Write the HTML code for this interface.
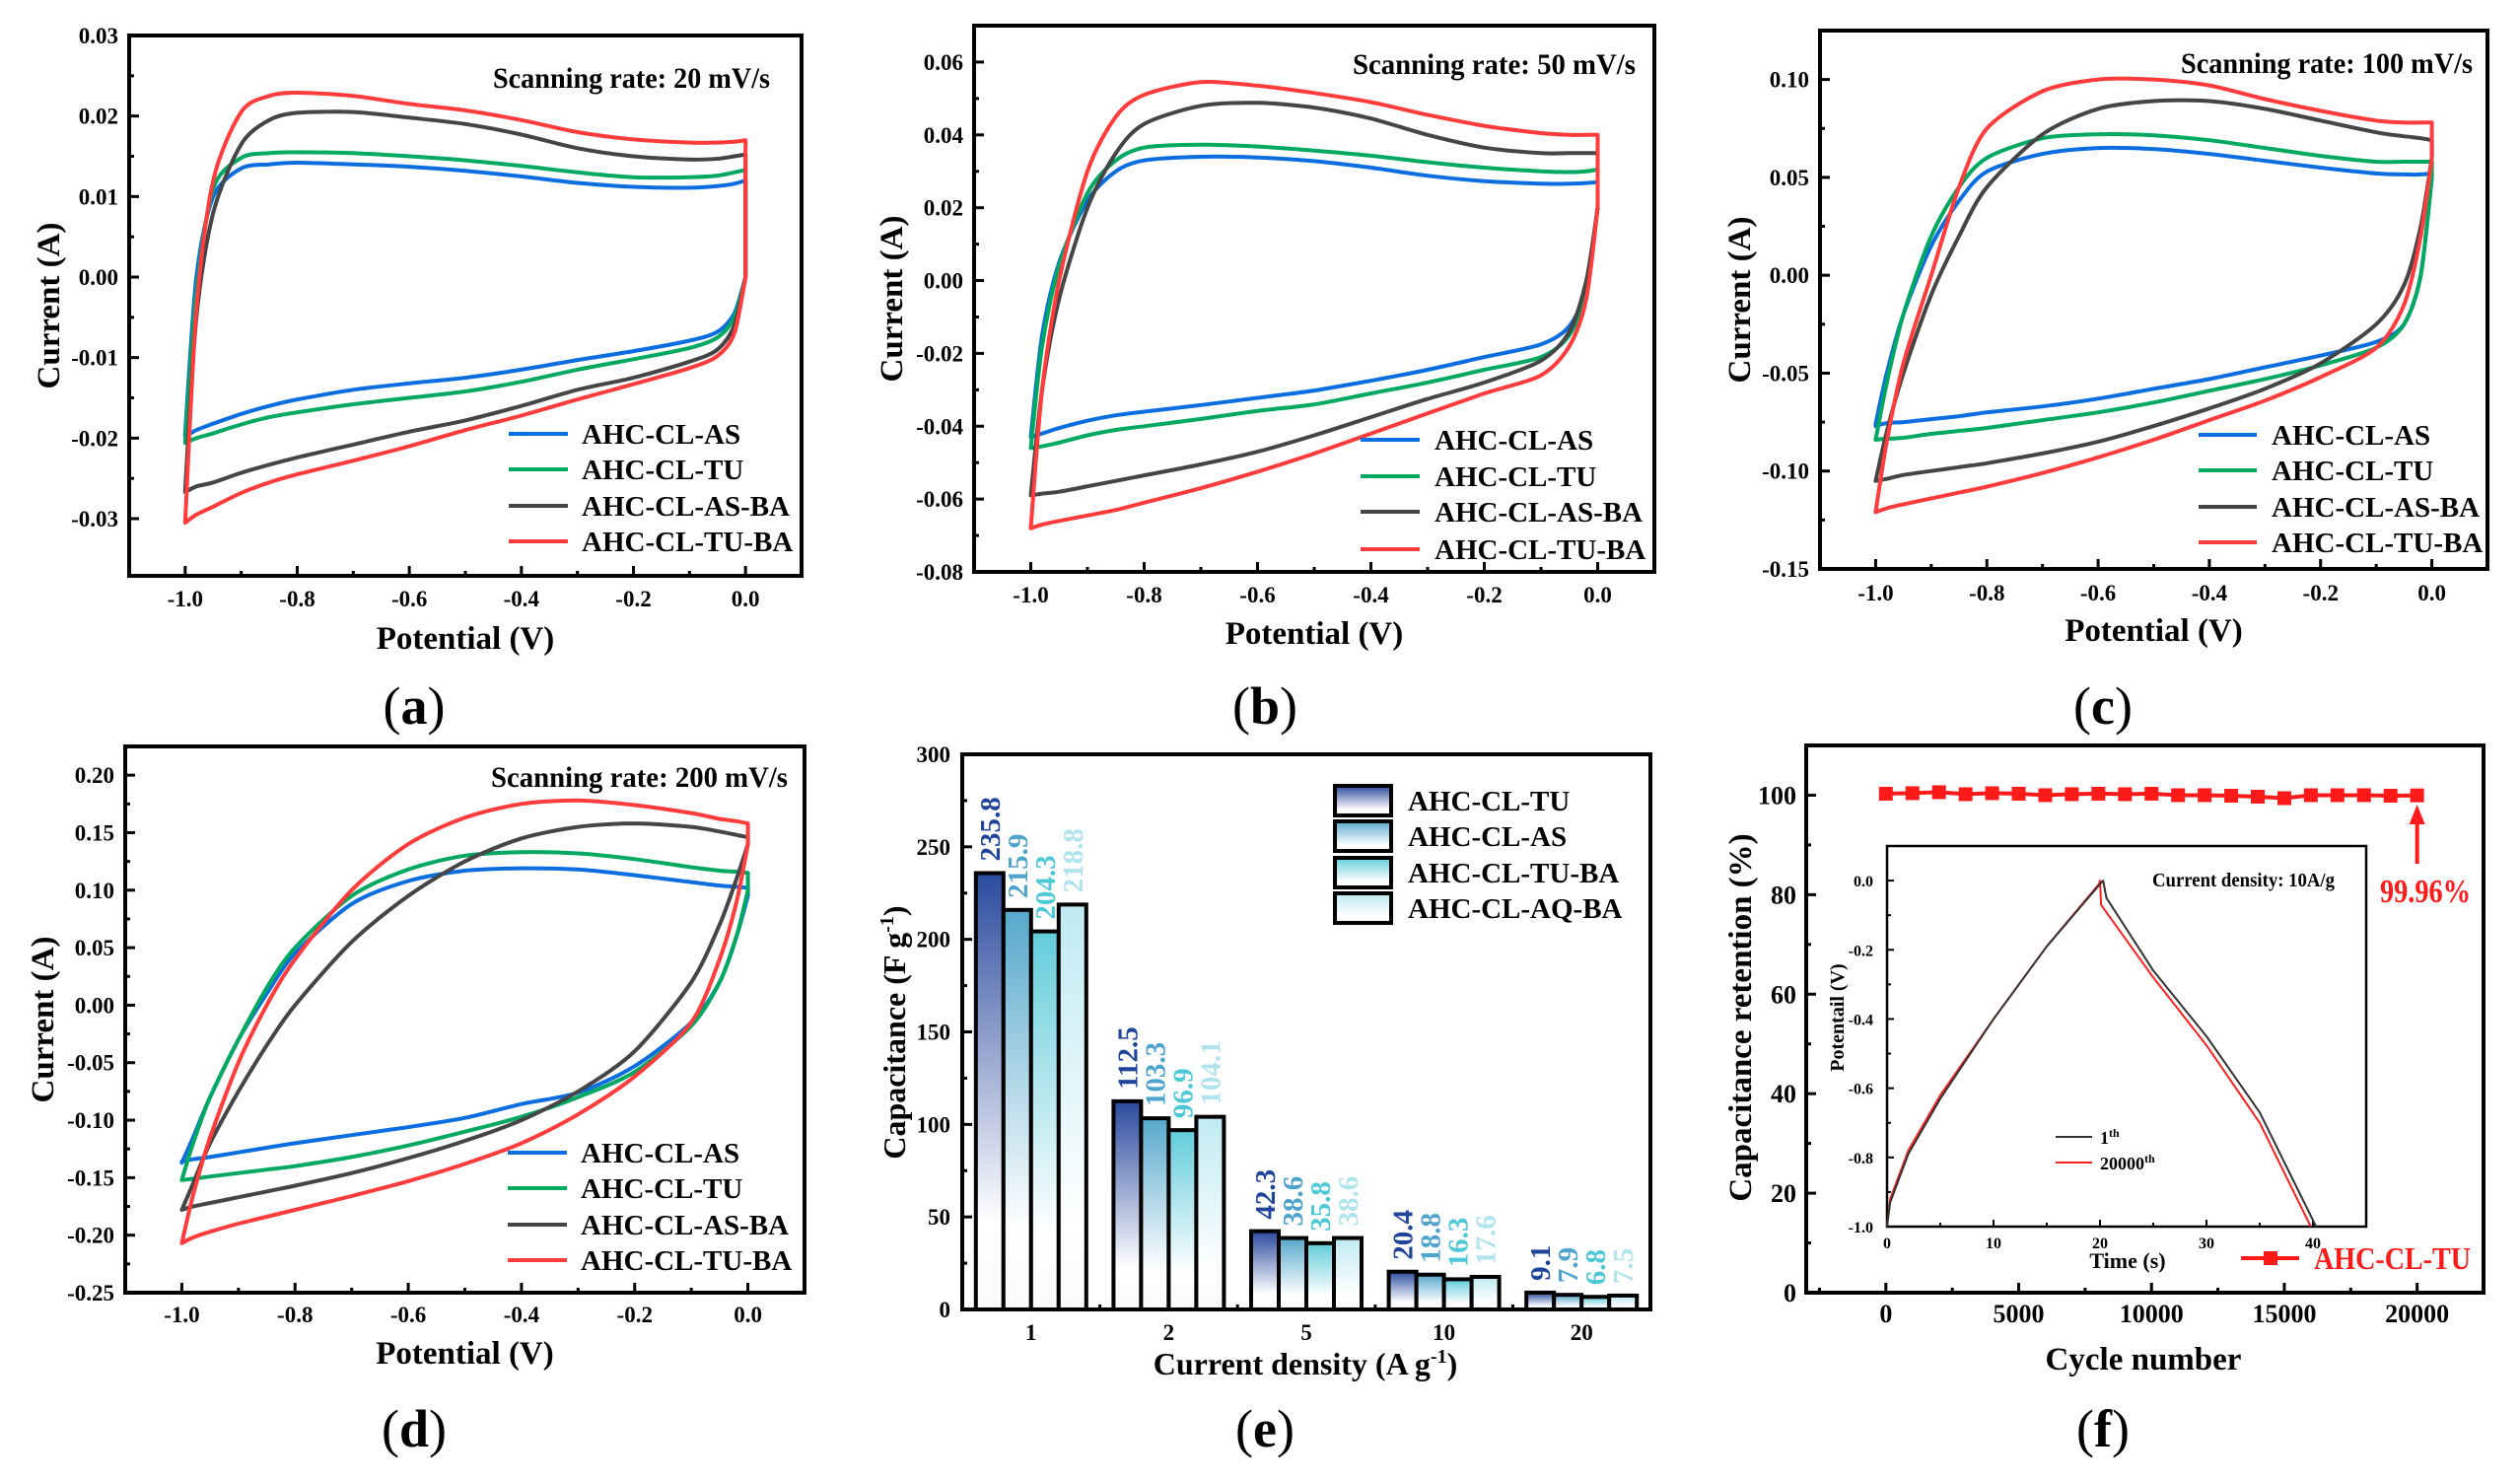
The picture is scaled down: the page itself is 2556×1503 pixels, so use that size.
<!DOCTYPE html>
<html><head><meta charset="utf-8"><style>
html,body{margin:0;padding:0;background:#fff;}
svg{display:block;font-family:"Liberation Serif",serif;}
</style></head><body>
<svg id="fig" width="2556" height="1503" viewBox="0 0 2556 1503" xmlns="http://www.w3.org/2000/svg">
<defs>
<linearGradient id="g0" x1="0" y1="0" x2="0" y2="1"><stop offset="0" stop-color="#2a4a9e"/><stop offset="0.8" stop-color="#ffffff"/><stop offset="1" stop-color="#fafafa"/></linearGradient>
<linearGradient id="g1" x1="0" y1="0" x2="0" y2="1"><stop offset="0" stop-color="#56a8cc"/><stop offset="0.8" stop-color="#ffffff"/><stop offset="1" stop-color="#fafafa"/></linearGradient>
<linearGradient id="g2" x1="0" y1="0" x2="0" y2="1"><stop offset="0" stop-color="#62ccdb"/><stop offset="0.8" stop-color="#ffffff"/><stop offset="1" stop-color="#fafafa"/></linearGradient>
<linearGradient id="g3" x1="0" y1="0" x2="0" y2="1"><stop offset="0" stop-color="#bfeaf2"/><stop offset="0.8" stop-color="#ffffff"/><stop offset="1" stop-color="#fafafa"/></linearGradient>
</defs>
</svg>
<script>
// ---------- CV data ----------
const potentialsUp   = [-1.0,-0.98,-0.95,-0.9,-0.85,-0.8,-0.7,-0.6,-0.5,-0.4,-0.3,-0.2,-0.1,-0.05,-0.02,0.0];
const potentialsDown = [0.0,-0.02,-0.05,-0.1,-0.2,-0.3,-0.4,-0.5,-0.6,-0.7,-0.8,-0.85,-0.9,-0.95,-0.98,-1.0];
const seriesNames = ['AHC-CL-AS','AHC-CL-TU','AHC-CL-AS-BA','AHC-CL-TU-BA'];
// (a) 20 mV/s
const a_AS_up   = [-0.0195,0.0,0.010,0.0135,0.014,0.0142,0.014,0.0137,0.0132,0.0125,0.0117,0.0112,0.0111,0.0113,0.0116,0.012];
const a_AS_dn   = [0.0,-0.0045,-0.0068,-0.0079,-0.0092,-0.0103,-0.0115,-0.0125,-0.0132,-0.014,-0.0152,-0.016,-0.017,-0.0182,-0.019,-0.0198];
const a_TU_up   = [-0.0205,-0.002,0.011,0.0148,0.0154,0.0155,0.0154,0.015,0.0145,0.0138,0.013,0.0124,0.0124,0.0126,0.013,0.0133];
const a_TU_dn   = [0.0,-0.005,-0.0075,-0.0088,-0.0102,-0.0115,-0.013,-0.0142,-0.015,-0.0158,-0.0168,-0.0174,-0.0183,-0.0194,-0.02,-0.0206];
const a_ASBA_up = [-0.0265,-0.005,0.008,0.0165,0.0195,0.0204,0.0205,0.0198,0.019,0.0177,0.016,0.015,0.0146,0.0147,0.015,0.0152];
const a_ASBA_dn = [0.0,-0.006,-0.009,-0.0105,-0.0125,-0.014,-0.016,-0.0178,-0.0192,-0.0208,-0.0224,-0.0233,-0.0243,-0.0255,-0.026,-0.0267];
const a_TUBA_up = [-0.0305,-0.004,0.012,0.0205,0.0225,0.0229,0.0225,0.0215,0.0207,0.0195,0.018,0.0171,0.0167,0.0167,0.0168,0.017];
const a_TUBA_dn = [0.0,-0.007,-0.0098,-0.0113,-0.0133,-0.0152,-0.0172,-0.019,-0.021,-0.0228,-0.0245,-0.0255,-0.0268,-0.0285,-0.0295,-0.0305];
// (b) 50 mV/s
const b_AS_up   = [-0.043,-0.015,0.005,0.022,0.03,0.033,0.034,0.0338,0.0328,0.031,0.0288,0.0273,0.0266,0.0266,0.0268,0.027];
const b_AS_dn   = [0.02,-0.002,-0.0125,-0.0175,-0.021,-0.0245,-0.0275,-0.0302,-0.0322,-0.0342,-0.036,-0.037,-0.0385,-0.0405,-0.042,-0.043];
const b_TU_up   = [-0.046,-0.018,0.004,0.024,0.033,0.0365,0.0373,0.0368,0.0357,0.0343,0.0325,0.031,0.030,0.0298,0.030,0.0305];
const b_TU_dn   = [0.02,-0.003,-0.015,-0.021,-0.0245,-0.028,-0.031,-0.034,-0.0358,-0.038,-0.040,-0.041,-0.0425,-0.0445,-0.0455,-0.046];
const b_ASBA_up = [-0.059,-0.03,-0.005,0.02,0.035,0.043,0.048,0.0488,0.0475,0.0445,0.040,0.0365,0.035,0.035,0.035,0.035];
const b_ASBA_dn = [0.02,0.0,-0.014,-0.022,-0.028,-0.0325,-0.0375,-0.0425,-0.047,-0.0505,-0.0535,-0.055,-0.0565,-0.058,-0.0585,-0.059];
const b_TUBA_up = [-0.068,-0.03,0.0,0.03,0.045,0.051,0.0545,0.0535,0.0515,0.049,0.0455,0.0425,0.0405,0.040,0.040,0.040];
const b_TUBA_dn = [0.02,-0.005,-0.018,-0.026,-0.031,-0.0365,-0.042,-0.0475,-0.0525,-0.057,-0.061,-0.063,-0.0645,-0.066,-0.067,-0.068];
// (c) 100 mV/s
const c_AS_up   = [-0.076,-0.05,-0.02,0.015,0.038,0.053,0.062,0.065,0.0645,0.062,0.0585,0.055,0.052,0.0515,0.0515,0.052];
const c_AS_dn   = [0.05,0.0,-0.025,-0.034,-0.041,-0.047,-0.053,-0.058,-0.063,-0.067,-0.070,-0.072,-0.0735,-0.075,-0.0755,-0.077];
const c_TU_up   = [-0.084,-0.055,-0.02,0.02,0.045,0.06,0.07,0.072,0.0715,0.069,0.065,0.061,0.058,0.058,0.058,0.058];
const c_TU_dn   = [0.05,0.0,-0.025,-0.037,-0.046,-0.053,-0.059,-0.065,-0.070,-0.074,-0.078,-0.0795,-0.081,-0.083,-0.0835,-0.084];
const c_ASBA_up = [-0.105,-0.08,-0.05,-0.01,0.02,0.045,0.072,0.085,0.089,0.089,0.085,0.079,0.073,0.071,0.070,0.069];
const c_ASBA_dn = [0.06,0.025,-0.005,-0.025,-0.045,-0.058,-0.068,-0.077,-0.085,-0.091,-0.096,-0.098,-0.100,-0.102,-0.104,-0.105];
const c_TUBA_up = [-0.121,-0.085,-0.045,0.0,0.045,0.075,0.094,0.100,0.100,0.097,0.090,0.084,0.079,0.078,0.078,0.078];
const c_TUBA_dn = [0.06,0.02,-0.015,-0.037,-0.052,-0.064,-0.074,-0.084,-0.093,-0.101,-0.108,-0.111,-0.114,-0.117,-0.119,-0.121];
// (d) 200 mV/s
const d_AS_up   = [-0.137,-0.115,-0.08,-0.03,0.01,0.045,0.088,0.108,0.117,0.119,0.118,0.113,0.107,0.104,0.103,0.102];
const d_AS_dn   = [0.095,0.06,0.02,-0.015,-0.053,-0.076,-0.086,-0.098,-0.106,-0.113,-0.120,-0.124,-0.128,-0.132,-0.134,-0.136];
const d_TU_up   = [-0.152,-0.12,-0.08,-0.03,0.015,0.05,0.095,0.118,0.130,0.133,0.132,0.127,0.120,0.117,0.116,0.115];
const d_TU_dn   = [0.10,0.06,0.02,-0.018,-0.058,-0.080,-0.097,-0.110,-0.122,-0.132,-0.140,-0.143,-0.146,-0.149,-0.151,-0.152];
const d_ASBA_up = [-0.178,-0.155,-0.12,-0.075,-0.035,0.0,0.055,0.095,0.125,0.145,0.155,0.158,0.155,0.151,0.148,0.146];
const d_ASBA_dn = [0.14,0.11,0.07,0.02,-0.04,-0.075,-0.10,-0.118,-0.133,-0.146,-0.157,-0.162,-0.167,-0.172,-0.175,-0.178];
const d_TUBA_up = [-0.207,-0.165,-0.115,-0.05,0.0,0.04,0.10,0.14,0.163,0.175,0.178,0.174,0.167,0.162,0.160,0.158];
const d_TUBA_dn = [0.14,0.09,0.04,-0.015,-0.062,-0.095,-0.12,-0.138,-0.153,-0.166,-0.178,-0.184,-0.190,-0.197,-0.202,-0.207];
// ---------- bar data (e) ----------
const densityLabels = ['1','2','5','10','20'];
const barSeries = ['AHC-CL-TU','AHC-CL-AS','AHC-CL-TU-BA','AHC-CL-AQ-BA'];
const capTU   = [235.8,112.5,42.3,20.4,9.1];
const capAS   = [215.9,103.3,38.6,18.8,7.9];
const capTUBA = [204.3,96.9,35.8,16.3,6.8];
const capAQBA = [218.8,104.1,38.6,17.6,7.5];
const capTickLabels = ['0','50','100','150','200','250','300'];
// ---------- retention data (f) ----------
const cycles = [0,1000,2000,3000,4000,5000,6000,7000,8000,9000,10000,11000,12000,13000,14000,15000,16000,17000,18000,19000,20000];
const retention = [100.3,100.4,100.6,100.2,100.4,100.3,100.0,100.2,100.3,100.2,100.3,100.0,100.0,99.9,99.7,99.4,100.0,100.0,100.0,99.9,99.96];
const cycleTickLabels = ['0','5000','10000','15000','20000'];
const gcdTime1 = [0,0.3,2,5,10,15,20,20.3,20.6,25,30,35,40.3];
const gcdV1    = [-1.0,-0.93,-0.79,-0.63,-0.40,-0.19,-0.01,0.0,-0.05,-0.26,-0.45,-0.67,-1.0];
const gcdTime2 = [0,0.3,2,5,10,15,19.9,20.0,20.1,25,30,35,39.8];
const gcdV2    = [-1.0,-0.92,-0.78,-0.62,-0.40,-0.19,-0.01,0.0,-0.07,-0.28,-0.476,-0.70,-1.0];

const NS='http://www.w3.org/2000/svg';
const svg=document.getElementById('fig');
function mk(tag,attrs,name,parent){
  const el=document.createElementNS(NS,tag);
  for(const k in attrs) el.setAttribute(k,attrs[k]);
  
  
  (parent||svg).appendChild(el);
  return el;
}
function txt(x,y,s,size,name,opts){
  opts=opts||{};
  const a={x:x,y:y,'font-size':size,'font-weight':opts.weight||'bold',fill:opts.fill||'#000','text-anchor':opts.anchor||'middle'};
  if(opts.transform) a.transform=opts.transform;
  if(opts.len){a.textLength=opts.len;a.lengthAdjust='spacingAndGlyphs';}
  const t=mk('text',a,name,opts.parent);
  t.textContent=s;
  return t;
}
function lin(d0,d1,r0,r1){return v=>r0+(v-d0)/(d1-d0)*(r1-r0);}
function smoothSeg(pts,t){
  let d='';
  for(let i=0;i<pts.length-1;i++){
    const p0=pts[i-1]||pts[i],p1=pts[i],p2=pts[i+1],p3=pts[i+2]||p2;
    const c1=[p1[0]+(p2[0]-p0[0])*t,p1[1]+(p2[1]-p0[1])*t];
    const c2=[p2[0]-(p3[0]-p1[0])*t,p2[1]-(p3[1]-p1[1])*t];
    d+='C'+c1[0].toFixed(1)+','+c1[1].toFixed(1)+' '+c2[0].toFixed(1)+','+c2[1].toFixed(1)+' '+p2[0].toFixed(1)+','+p2[1].toFixed(1);
  }
  return d;
}
function frame(P,name){
  mk('rect',{x:P.L,y:P.T,width:P.R-P.L,height:P.B-P.T,fill:'none',stroke:'#000','stroke-width':P.sw||4},name);
}
function panelLabel(x,y,letter,name){
  const t=mk('text',{x:x,y:y,'font-size':54,'text-anchor':'middle'},name);
  const s1=mk('tspan',{},'paren-open',t);s1.textContent='(';
  const s2=mk('tspan',{'font-weight':'bold'},'panel-letter',t);s2.textContent=letter;
  const s3=mk('tspan',{},'paren-close',t);s3.textContent=')';
}
const colors=['#0a6ee0','#00a860','#454545','#ff3b3b'];

function cvPanel(P,data){
  const X=lin(-1.1,0.1,P.L,P.R), Y=lin(P.ymin,P.ymax,P.B,P.T);
  const g=mk('g',{},'cv-panel-'+P.id);
  data.forEach((s,i)=>{
    const up=potentialsUp.map((v,k)=>[X(v),Y(s[0][k])]);
    const dn=potentialsDown.map((v,k)=>[X(v),Y(s[1][k])]);
    let d='M'+up[0][0].toFixed(1)+','+up[0][1].toFixed(1)+smoothSeg(up,0.14);
    d+='L'+dn[0][0].toFixed(1)+','+dn[0][1].toFixed(1)+smoothSeg(dn,0.14)+'Z';
    mk('path',{d:d,fill:'none',stroke:colors[i],'stroke-width':4,'stroke-linejoin':'round'},'cv-curve-'+seriesNames[i].toLowerCase(),g);
  });
  frame(P,'plot-frame-'+P.id);
  for(let k=0;k<=10;k++){
    const v=-1.0+k*0.1, x=X(v), major=k%2===0;
    mk('line',{x1:x,x2:x,y1:P.B,y2:P.B-(major?10:5),stroke:'#000','stroke-width':3},'x-tick',g);
    if(major) txt(x,P.xtY+8,v.toFixed(1).replace('-0.0','0.0'),23,'x-tick-label',{parent:g});
  }
  const n=Math.round((P.ymaxTick-P.yminTick)/P.ystep);
  for(let k=0;k<=2*n;k++){
    const v=P.yminTick+k*P.ystep/2, y=Y(v), major=k%2===0;
    mk('line',{x1:P.L,x2:P.L+(major?10:5),y1:y,y2:y,stroke:'#000','stroke-width':3},'y-tick',g);
    if(major){let s=v.toFixed(2); if(Math.abs(v)<1e-9) s='0.00'; txt(P.L-11,y+8,s,23,'y-tick-label',{parent:g,anchor:'end'});}
  }
  txt(P.ytX+11,(P.T+P.B)/2,'Current (A)',33,'y-axis-title',{parent:g,transform:'rotate(-90 '+(P.ytX+11)+' '+((P.T+P.B)/2)+')'});
  txt((P.L+P.R)/2,P.xtitleY+11,'Potential (V)',33,'x-axis-title',{parent:g});
  txt(P.titleR,P.titleY+10,P.title,30,'scan-rate-annotation',{parent:g,anchor:'end',len:P.titleR-P.titleL});
  P.rows.forEach((ry,i)=>{
    mk('line',{x1:P.lx1,x2:P.lx2,y1:ry,y2:ry,stroke:colors[i],'stroke-width':4},'legend-swatch',g);
    txt(P.tx,ry+10,seriesNames[i],29,'legend-entry',{parent:g,anchor:'start'});
  });
  panelLabel(P.labX,P.labY+18,P.id,'panel-label-'+P.id);
}

cvPanel({id:'a',L:131,R:813,T:36,B:584,ymin:-0.0371,ymax:0.03,yminTick:-0.03,ymaxTick:0.03,ystep:0.01,
  title:'Scanning rate: 20 mV/s',titleL:500,titleR:781,titleY:79,lx1:516,lx2:576,tx:590,rows:[440,476,513,549],
  ytX:49,xtY:607,xtitleY:647,labX:420,labY:716},
  [[a_AS_up,a_AS_dn],[a_TU_up,a_TU_dn],[a_ASBA_up,a_ASBA_dn],[a_TUBA_up,a_TUBA_dn]]);
cvPanel({id:'b',L:988,R:1678,T:26,B:580,ymin:-0.08,ymax:0.07,yminTick:-0.08,ymaxTick:0.06,ystep:0.02,
  title:'Scanning rate: 50 mV/s',titleL:1372,titleR:1659,titleY:65,lx1:1380,lx2:1440,tx:1455,rows:[446,483,519,557],
  ytX:904,xtY:603,xtitleY:642,labX:1283,labY:716},
  [[b_AS_up,b_AS_dn],[b_TU_up,b_TU_dn],[b_ASBA_up,b_ASBA_dn],[b_TUBA_up,b_TUBA_dn]]);
cvPanel({id:'c',L:1846,R:2523,T:31,B:577,ymin:-0.15,ymax:0.125,yminTick:-0.15,ymaxTick:0.10,ystep:0.05,
  title:'Scanning rate: 100 mV/s',titleL:2212,titleR:2508,titleY:64,lx1:2230,lx2:2289,tx:2304,rows:[441,477,514,550],
  ytX:1764,xtY:601,xtitleY:639,labX:2133,labY:716},
  [[c_AS_up,c_AS_dn],[c_TU_up,c_TU_dn],[c_ASBA_up,c_ASBA_dn],[c_TUBA_up,c_TUBA_dn]]);
cvPanel({id:'d',L:127,R:816,T:757,B:1311,ymin:-0.25,ymax:0.225,yminTick:-0.25,ymaxTick:0.20,ystep:0.05,
  title:'Scanning rate: 200 mV/s',titleL:498,titleR:799,titleY:788,lx1:515,lx2:575,tx:589,rows:[1169,1205,1242,1278],
  ytX:43,xtY:1333,xtitleY:1372,labX:420,labY:1449},
  [[d_AS_up,d_AS_dn],[d_TU_up,d_TU_dn],[d_ASBA_up,d_ASBA_dn],[d_TUBA_up,d_TUBA_dn]]);

// ---------- panel e ----------
(function(){
  const P={L:976,R:1674,T:765,B:1328};
  const g=mk('g',{},'bar-panel-e');
  const Y=lin(0,300,P.B,P.T);
  const band=(P.R-P.L)/densityLabels.length, bw=28;
  const vals=[capTU,capAS,capTUBA,capAQBA];
  const labCol=['#1f449a','#4ea4cc','#4cc8d6','#b0e4ee'];
  densityLabels.forEach((lab,ci)=>{
    const cx=P.L+band*(ci+0.5);
    vals.forEach((arr,si)=>{
      const x=cx-2*bw+si*bw, v=arr[ci], y=Y(v);
      mk('rect',{x:x,y:y,width:bw,height:P.B-y,fill:'url(#g'+si+')',stroke:'#000','stroke-width':4},'bar-'+barSeries[si].toLowerCase()+'-'+lab,g);
      const lx=x+bw/2+10, ly=y-12;
      txt(lx,ly,v.toFixed(1),29,'bar-value-label',{parent:g,anchor:'start',fill:labCol[si],transform:'rotate(-90 '+lx+' '+ly+')'});
    });
    txt(cx,1351+8,lab,23,'x-tick-label',{parent:g});
    if(ci>0) mk('line',{x1:P.L+band*ci,x2:P.L+band*ci,y1:P.B,y2:P.B-5,stroke:'#000','stroke-width':3},'x-minor-tick',g);
  });
  frame(P,'plot-frame-e');
  capTickLabels.forEach((s,k)=>{
    const y=Y(+s);
    mk('line',{x1:P.L,x2:P.L+10,y1:y,y2:y,stroke:'#000','stroke-width':3},'y-tick',g);
    if(k<capTickLabels.length-1){const ym=Y(+s+25);mk('line',{x1:P.L,x2:P.L+5,y1:ym,y2:ym,stroke:'#000','stroke-width':3},'y-minor-tick',g);}
    txt(P.L-12,y+8,s,23,'y-tick-label',{parent:g,anchor:'end'});
  });
  const yt=mk('text',{x:918,y:1047,'font-size':32,'font-weight':'bold','text-anchor':'middle',transform:'rotate(-90 918 1047)'},'y-axis-title',g);
  yt.innerHTML='Capacitance (F g<tspan dy="-12" font-size="20">-1</tspan><tspan dy="12">)</tspan>';
  const xt=mk('text',{x:1324,y:1394,'font-size':32,'font-weight':'bold','text-anchor':'middle'},'x-axis-title',g);
  xt.innerHTML='Current density (A g<tspan dy="-12" font-size="20">-1</tspan><tspan dy="12">)</tspan>';
  [812,848,885,921].forEach((ry,i)=>{
    mk('rect',{x:1354,y:ry-15,width:57,height:30,fill:'url(#g'+i+')',stroke:'#000','stroke-width':4},'legend-swatch',g);
    txt(1428,ry+10,barSeries[i],29,'legend-entry',{parent:g,anchor:'start'});
  });
  panelLabel(1283,1467,'e','panel-label-e');
})();

// ---------- panel f ----------
(function(){
  const P={L:1832,R:2519,T:756,B:1311};
  const g=mk('g',{},'retention-panel-f');
  const X=lin(-3000,22500,P.L,P.R), Y=lin(0,110,P.B,P.T);
  frame(P,'plot-frame-f');
  cycleTickLabels.forEach((s,k)=>{
    const x=X(+s);
    mk('line',{x1:x,x2:x,y1:P.B,y2:P.B-10,stroke:'#000','stroke-width':3},'x-tick',g);
    txt(x,1333+8,s,26,'x-tick-label',{parent:g});
  });
  for(let v=-2500;v<=22500;v+=5000){const x=X(v);mk('line',{x1:x,x2:x,y1:P.B,y2:P.B-5,stroke:'#000','stroke-width':3},'x-minor-tick',g);}
  for(let v=0;v<=100;v+=20){
    const y=Y(v);
    mk('line',{x1:P.L,x2:P.L+10,y1:y,y2:y,stroke:'#000','stroke-width':3},'y-tick',g);
    const ym=Y(v+10);mk('line',{x1:P.L,x2:P.L+5,y1:ym,y2:ym,stroke:'#000','stroke-width':3},'y-minor-tick',g);
    txt(P.L-10,y+9,String(v),26,'y-tick-label',{parent:g,anchor:'end'});
  }
  txt(1776,1032,'Capacitance retention (%)',33,'y-axis-title',{parent:g,transform:'rotate(-90 1776 1032)'});
  txt(2174,1389,'Cycle number',33,'x-axis-title',{parent:g});
  const pts=cycles.map((c,i)=>X(c).toFixed(1)+','+Y(retention[i]).toFixed(1)).join(' ');
  mk('polyline',{points:pts,fill:'none',stroke:'#ff1a1a','stroke-width':4},'retention-line',g);
  cycles.forEach((c,i)=>{
    mk('rect',{x:X(c)-7,y:Y(retention[i])-7,width:14,height:14,fill:'#ff1a1a'},'retention-marker',g);
  });
  const ax=X(cycles[cycles.length-1]);
  mk('line',{x1:ax,x2:ax,y1:876,y2:832,stroke:'#ff1a1a','stroke-width':4},'arrow-shaft',g);
  mk('polygon',{points:(ax-8)+',836 '+(ax+8)+',836 '+ax+',816',fill:'#ff1a1a'},'arrow-head',g);
  txt(2460,915,'99.96%',34,'retention-value-annotation',{parent:g,fill:'#ff1a1a',len:92});
  mk('line',{x1:2273,x2:2332,y1:1276,y2:1276,stroke:'#ff1a1a','stroke-width':4},'legend-swatch',g);
  mk('rect',{x:2296,y:1269,width:14,height:14,fill:'#ff1a1a'},'legend-marker',g);
  txt(2347,1287,'AHC-CL-TU',32,'legend-entry',{parent:g,anchor:'start',fill:'#ff1a1a',len:159});
  const I={L:1914,R:2400,T:858,B:1244};
  const IX=lin(0,45,I.L,I.R), IY=lin(-1,0.1,I.B,I.T);
  mk('rect',{x:I.L,y:I.T,width:I.R-I.L,height:I.B-I.T,fill:'#fff',stroke:'#000','stroke-width':2.5},'inset-frame',g);
  for(let v=0;v<=45;v+=5){
    const x=IX(v), major=v%10===0;
    mk('line',{x1:x,x2:x,y1:I.B,y2:I.B-(major?7:4),stroke:'#000','stroke-width':2},'inset-x-tick',g);
    if(major) txt(x,1266,String(v),16,'inset-x-tick-label',{parent:g});
  }
  for(let k=0;k<=10;k++){
    const v=-1+k*0.1, y=IY(v), major=k%2===0;
    mk('line',{x1:I.L,x2:I.L+(major?7:4),y1:y,y2:y,stroke:'#000','stroke-width':2},'inset-y-tick',g);
    if(major){let s=v.toFixed(1);if(s==='-0.0')s='0.0';txt(I.L-14,y+6,s,16,'inset-y-tick-label',{parent:g,anchor:'end'});}
  }
  const p1=gcdTime1.map((t,i)=>IX(t).toFixed(1)+','+IY(gcdV1[i]).toFixed(1)).join(' ');
  const p2=gcdTime2.map((t,i)=>IX(t).toFixed(1)+','+IY(gcdV2[i]).toFixed(1)).join(' ');
  mk('polyline',{points:p2,fill:'none',stroke:'#ff2020','stroke-width':2,'stroke-linejoin':'round'},'gcd-curve-20000th',g);
  mk('polyline',{points:p1,fill:'none',stroke:'#333','stroke-width':2,'stroke-linejoin':'round'},'gcd-curve-1th',g);
  txt(2368,899,'Current density: 10A/g',20,'inset-annotation',{parent:g,anchor:'end',len:185});
  txt(1870,1032,'Potentail (V)',20,'inset-y-axis-title',{parent:g,transform:'rotate(-90 1870 1032)'});
  txt(2158,1286,'Time (s)',22,'inset-x-axis-title',{parent:g});
  mk('line',{x1:2085,x2:2122,y1:1153,y2:1153,stroke:'#333','stroke-width':2},'inset-legend-swatch',g);
  const l1=mk('text',{x:2130,y:1160,'font-size':18,'font-weight':'bold'},'inset-legend-entry',g);
  l1.innerHTML='1<tspan dy="-7" font-size="12">th</tspan>';
  mk('line',{x1:2085,x2:2122,y1:1179,y2:1179,stroke:'#ff2020','stroke-width':2},'inset-legend-swatch',g);
  const l2=mk('text',{x:2130,y:1186,'font-size':18,'font-weight':'bold'},'inset-legend-entry',g);
  l2.innerHTML='20000<tspan dy="-7" font-size="12">th</tspan>';
  panelLabel(2133,1467,'f','panel-label-f');
})();
</script>
</body></html>
